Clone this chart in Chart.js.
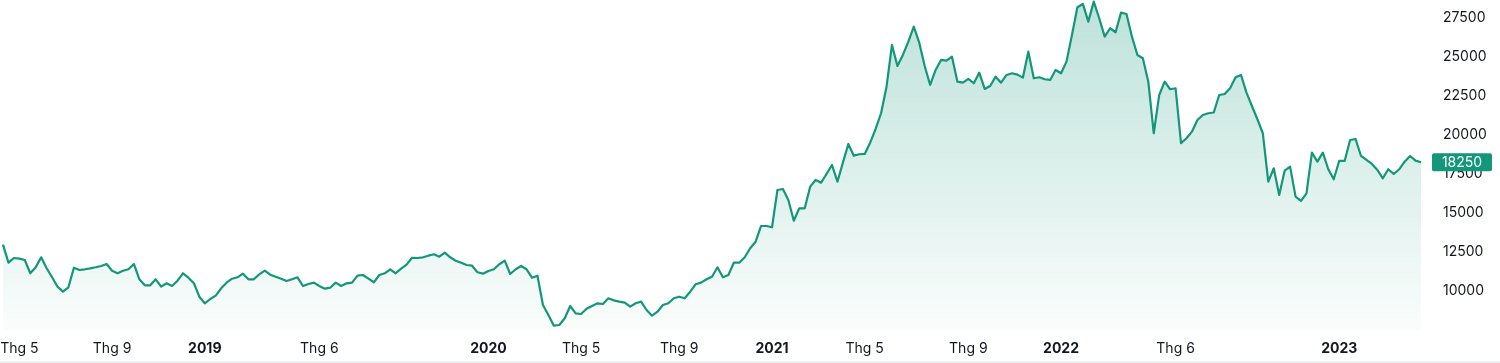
<!DOCTYPE html>
<html><head><meta charset="utf-8">
<script src="https://cdn.jsdelivr.net/npm/chart.js@4.4.0/dist/chart.umd.min.js"></script>
<style>
html,body{margin:0;padding:0;background:#fff;}
#wrap{width:1500px;height:361px;border-bottom:2px solid #eef0f4;}
canvas{display:block;}
</style></head><body>
<div id="wrap"><canvas id="c" width="1500" height="361"></canvas></div>
<script>
// weekly closes, first week starting 2018-04-16
const startDate = [2018, 3, 16];
const prices = [
12968,11814,12115,12071,11987,11135,11519,12160,11455,10878,
10276,9957,10237,11494,11346,11391,11450,11520,11600,11731,
11301,11135,11301,11391,11731,10750,10365,10365,10750,10276,
10494,10320,10660,11135,10853,10494,9635,9212,9487,9701,
10171,10534,10788,10878,11109,10750,10750,11070,11301,11045,
10917,10788,10641,10750,10878,10320,10449,10534,10320,10147,
10212,10534,10320,10494,10534,10981,11026,10788,10558,11026,
11135,11391,11135,11430,11686,12130,12115,12160,12263,12353,
12199,12455,12160,11942,11814,11667,11622,11199,11109,11282,
11391,11712,11942,11090,11391,11603,11391,10853,10981,9103,
8462,7776,7821,8250,9039,8570,8526,8866,9039,9212,
9167,9532,9400,9316,9250,8994,9212,9316,8782,8417,
8673,9103,9212,9532,9635,9532,9955,10429,10534,10750,
10917,11519,10878,11026,11814,11814,12160,12737,13160,14167,
14167,14083,16474,16538,15833,14506,15301,15301,16686,17115,
16942,17500,18077,17006,18224,19423,18673,18763,18782,19506,
20384,21391,23096,25769,24423,25128,25981,26942,25917,24423,
23205,24167,24808,24763,25019,23417,23353,23590,23314,23994,
22949,23141,23737,23353,23846,23955,23865,23673,25340,23634,
23698,23570,23525,24167,23955,24699,26410,28185,28397,27263,
28545,27480,26301,26839,26583,27839,27756,26301,25128,24917,
23417,20109,22564,23417,22929,22993,19468,19788,20211,20961,
21282,21391,21440,22564,22628,22993,23698,23846,22711,21859,
21006,20109,17006,17865,16154,17711,17968,16045,15769,16263,
18865,18288,18865,17801,17160,18333,18333,19679,19743,18654,
18397,18141,17756,17224,17801,17500,17801,18288,18654,18352,
18250
];
const yTickValues = [10000, 12500, 15000, 17500, 20000, 22500, 25000, 27500];
const tickDates = ['2018-05-07','2018-09-03','2018-12-31','2019-05-27','2019-12-30','2020-04-27','2020-08-31','2020-12-28','2021-04-26','2021-09-06','2022-01-03','2022-05-30','2022-12-26'];
const tickLabels = ['Thg 5','Thg 9','2019','Thg 6','2020','Thg 5','Thg 9','2021','Thg 5','Thg 9','2022','Thg 6','2023'];

const categories = prices.map((_, i) => {
  const d = new Date(Date.UTC(startDate[0], startDate[1], startDate[2]) + i * 7 * 86400000);
  return d.toISOString().slice(0, 10);
});

const LINE = '#13977a';
const FONT = 'Inter, "Noto Sans", sans-serif';

function rr(c, x, y, w, h, r) {
  c.beginPath();
  c.moveTo(x + r, y); c.lineTo(x + w - r, y); c.quadraticCurveTo(x + w, y, x + w, y + r);
  c.lineTo(x + w, y + h - r); c.quadraticCurveTo(x + w, y + h, x + w - r, y + h);
  c.lineTo(x + r, y + h); c.quadraticCurveTo(x, y + h, x, y + h - r);
  c.lineTo(x, y + r); c.quadraticCurveTo(x, y, x + r, y); c.closePath();
}

const badge = {
  id: 'badge',
  afterDraw(chart) {
    const ys = chart.scales.y;
    const v = prices[prices.length - 1];
    const py = ys.getPixelForValue(v);
    const c = chart.ctx;
    const x0 = chart.chartArea.right + 11, w = 60, h = 18;
    c.save();
    c.fillStyle = LINE;
    rr(c, x0, py - h / 2, w, h, 2);
    c.fill();
    c.fillStyle = '#ffffff';
    c.font = '14px ' + FONT;
    c.textAlign = 'center';
    c.textBaseline = 'middle';
    c.fillText(String(v), x0 + w / 2, py + 0.5);
    c.restore();
  }
};

new Chart(document.getElementById('c'), {
  type: 'line',
  data: {
    labels: categories,
    datasets: [{
      data: prices,
      borderColor: LINE,
      borderWidth: 2.2,
      pointRadius: 0,
      pointHoverRadius: 0,
      tension: 0,
      borderJoinStyle: 'round',
      fill: 'start',
      backgroundColor: (ctx) => {
        const ch = ctx.chart; const a = ch.chartArea;
        if (!a) return 'rgba(19,151,122,0.15)';
        const g = ch.ctx.createLinearGradient(0, a.top, 0, a.bottom);
        g.addColorStop(0, 'rgba(19,151,122,0.28)');
        g.addColorStop(1, 'rgba(19,151,122,0.02)');
        return g;
      }
    }]
  },
  options: {
    responsive: false,
    animation: false,
    devicePixelRatio: 1,
    layout: { padding: { left: 3, right: 0, top: 0, bottom: 0 } },
    plugins: { legend: { display: false }, tooltip: { enabled: false } },
    scales: {
      x: {
        type: 'category',
        offset: false,
        grid: { display: false, drawTicks: false },
        border: { display: false },
        afterBuildTicks(scale) {
          scale.ticks = tickDates.map(d => ({ value: categories.indexOf(d) }));
        },
        afterFit(scale) { scale.height = 31; scale.paddingLeft = 0; scale.paddingRight = 0; },
        ticks: {
          autoSkip: false,
          maxRotation: 0,
          minRotation: 0,
          padding: 10,
          color: '#131722',
          font: (ctx) => ({ family: FONT, size: 14, weight: (ctx.tick && /^\d{4}$/.test(ctx.tick.label)) ? 'bold' : 'normal' }),
          callback(value) {
            const d = this.getLabelForValue(value);
            const k = tickDates.indexOf(d);
            return k >= 0 ? tickLabels[k] : '';
          }
        }
      },
      y: {
        position: 'right',
        min: 7500,
        max: 28650,
        grid: { display: false, drawTicks: false },
        border: { display: false },
        afterBuildTicks(scale) { scale.ticks = yTickValues.map(v => ({ value: v })); },
        afterFit(scale) { scale.width = 79; scale.paddingTop = 0; scale.paddingBottom = 0; },
        ticks: {
          padding: 22,
          color: '#131722',
          font: { family: FONT, size: 14 },
          callback: (v) => String(v)
        }
      }
    }
  },
  plugins: [badge]
});
</script>
</body></html>
